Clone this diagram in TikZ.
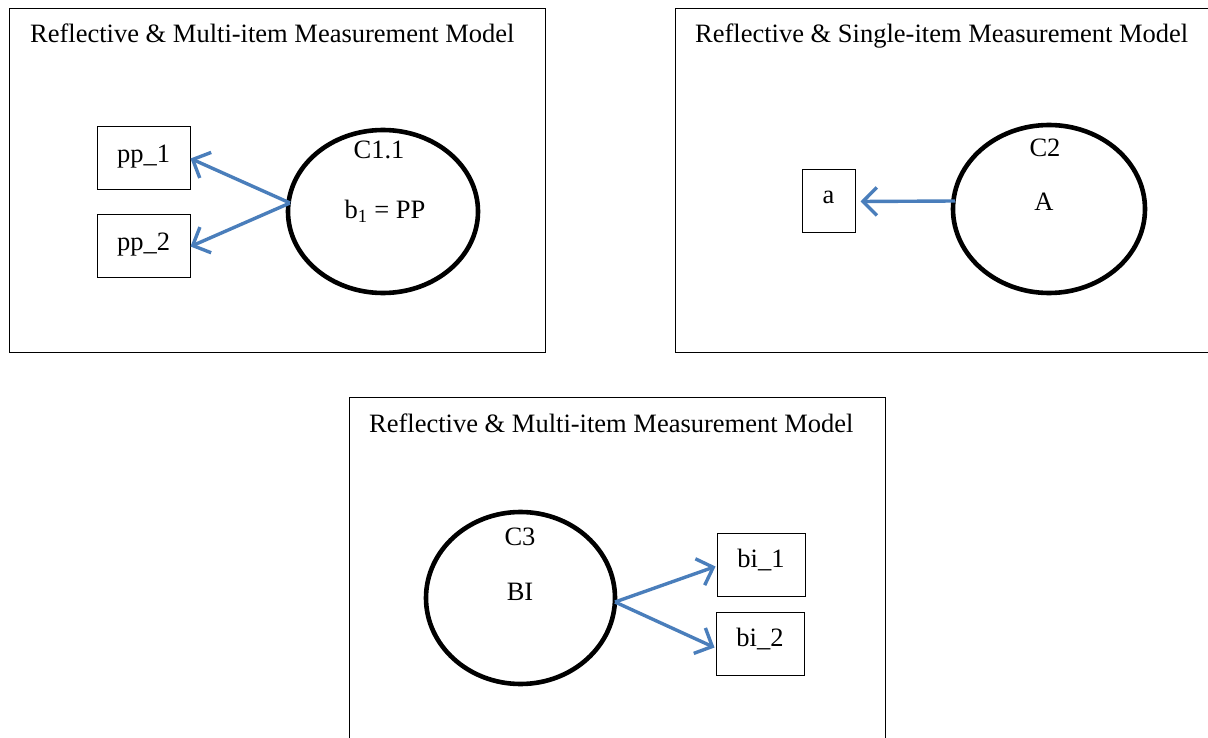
\documentclass[tikz,border=0pt]{standalone}
\usepackage{fontspec}
\setmainfont{Liberation Serif}
\usetikzlibrary{shapes.geometric,arrows.meta}
\definecolor{arrowblue}{HTML}{4A7EBB}
\tikzset{
  panel/.style={draw=black,line width=1pt},
  item/.style={draw=black,line width=1pt,inner sep=0pt},
  construct/.style={draw=black,ellipse,line width=4.6pt,inner sep=0pt},
  lbl/.style={inner sep=0pt,font=\fontsize{26.5}{30}\selectfont},
  title/.style={inner sep=0pt,anchor=base west,font=\fontsize{26.5}{30}\selectfont},
  load/.style={draw=arrowblue,line width=3.4pt,-{Straight Barb[length=14pt,width=28pt,line width=3.4pt]}}
}
\begin{document}
\begin{tikzpicture}[x=1pt,y=-1pt]
\useasboundingbox (0,0) rectangle (1208,738);
\clip (0,0) rectangle (1208,738);
\fill[white] (0,0) rectangle (1208,738);
% panel 1
\node[panel,minimum width=536pt,minimum height=344pt,anchor=north west] (p1) at (9,8) {};
\node[title] (t1) at (30,43) {Reflective \& Multi-item Measurement Model};
\node[item,minimum width=93pt,minimum height=63pt] (pp1) at (143.5,158.5) {};
\node[lbl] (pp1t) at (143.5,157) {pp\_1};
\node[item,minimum width=93pt,minimum height=63pt] (pp2) at (143.5,246.5) {};
\node[lbl] (pp2t) at (143.5,245) {pp\_2};
\node[construct,minimum width=190pt,minimum height=163pt] (e1) at (383,211.5) {};
\node[lbl] (c11) at (379,150) {C1.1};
\node[lbl] (b1) at (385,211) {b\textsubscript{1} = PP};
\coordinate (s1) at (290,203);
\draw[load] (s1) -- (pp1.east);
\draw[load] (s1) -- (pp2.east);
% panel 2
\node[panel,minimum width=545pt,minimum height=344pt,anchor=north west] (p2) at (675,8) {};
\node[title] (t2) at (695,43) {Reflective \& Single-item Measurement Model};
\node[item,minimum width=53pt,minimum height=63pt] (a) at (828.5,201.5) {};
\node[lbl] (at) at (828.5,197) {a};
\node[construct,minimum width=192pt,minimum height=168pt] (e2) at (1049,209) {};
\node[lbl] (c2) at (1045,148) {C2};
\node[lbl] (A) at (1044,202) {A};
\coordinate (s2) at (955,201);
\draw[load] (s2) -- ([xshift=5pt]a.east);
% panel 3
\node[panel,minimum width=536pt,minimum height=360pt,anchor=north west] (p3) at (349,397) {};
\node[title] (t3) at (369,432) {Reflective \& Multi-item Measurement Model};
\node[construct,minimum width=189pt,minimum height=172pt] (e3) at (520.5,598) {};
\node[lbl] (c3) at (520,537) {C3};
\node[lbl] (bi) at (520,592) {BI};
\node[item,minimum width=88pt,minimum height=63pt] (bi1) at (761,564.5) {};
\node[lbl] (bi1t) at (761,560) {bi\_1};
\node[item,minimum width=88pt,minimum height=63pt] (bi2) at (760,643.5) {};
\node[lbl] (bi2t) at (760,639) {bi\_2};
\coordinate (s3) at (615,602);
\draw[load] (s3) -- ([xshift=-1pt,yshift=-2pt]bi1.west);
\draw[load] (s3) -- ([xshift=-1pt,yshift=-4pt]bi2.west);
\end{tikzpicture}
\end{document}
